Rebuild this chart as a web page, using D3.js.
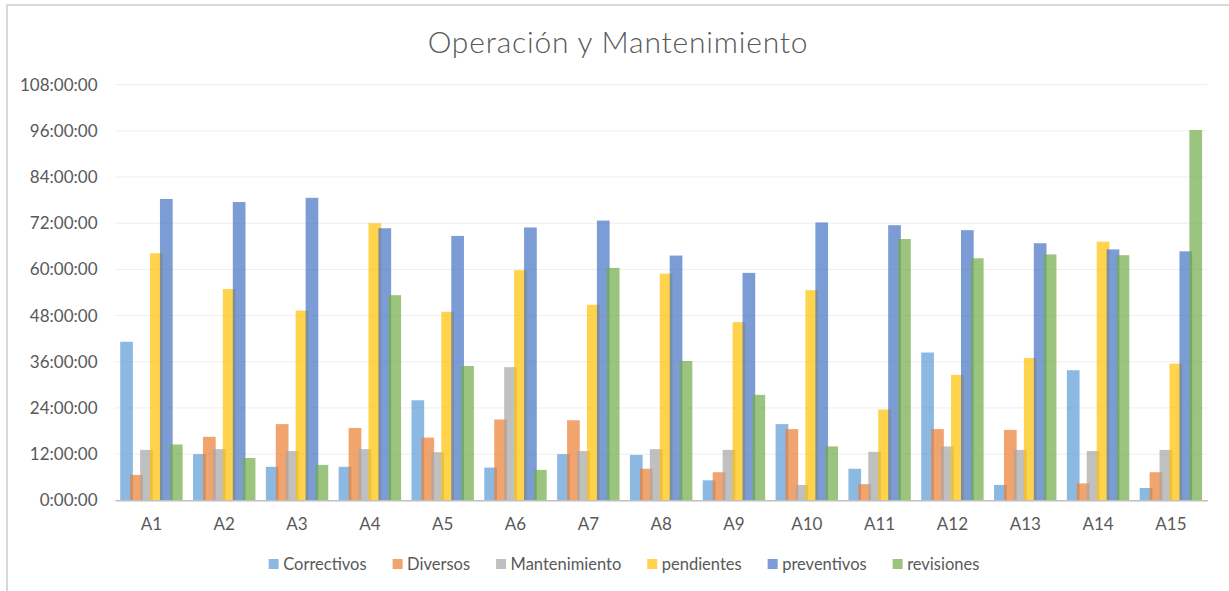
<!DOCTYPE html>
<html>
<head>
<meta charset="utf-8">
<script src="https://cdn.jsdelivr.net/npm/d3@7"></script>
<style>
  html, body { margin: 0; padding: 0; background: #fff; }
  svg { display: block; }
  text { font-family: Lato, "Open Sans", sans-serif; }
</style>
</head>
<body>
<svg id="chart" width="1229" height="591"></svg>
<script>
// ---- data (hours) ----
const categories = ["A1","A2","A3","A4","A5","A6","A7","A8","A9","A10","A11","A12","A13","A14","A15"];
const seriesNames = ["Correctivos","Diversos","Mantenimiento","pendientes","preventivos","revisiones"];
const correctivos   = [41.2, 12.0, 8.7, 8.7, 26.0, 8.5, 12.0, 11.8, 5.2, 19.8, 8.2, 38.4, 4.0, 33.8, 3.2];
const diversos      = [6.6, 16.5, 19.8, 18.8, 16.3, 21.0, 20.8, 8.2, 7.3, 18.5, 4.2, 18.5, 18.3, 4.4, 7.3];
const mantenimiento = [13.1, 13.3, 12.8, 13.3, 12.5, 34.6, 12.8, 13.3, 13.1, 4.0, 12.6, 14.0, 13.1, 12.8, 13.1];
const pendientes    = [64.2, 54.9, 49.3, 72.0, 49.0, 59.8, 50.8, 58.9, 46.3, 54.6, 23.6, 32.6, 37.0, 67.2, 35.5];
const preventivos   = [78.3, 77.5, 78.6, 70.7, 68.7, 70.9, 72.7, 63.6, 59.1, 72.2, 71.5, 70.2, 66.8, 65.2, 64.7];
const revisiones    = [14.5, 11.0, 9.2, 53.3, 34.9, 7.9, 60.4, 36.2, 27.4, 14.0, 67.9, 62.9, 63.9, 63.7, 96.2];
const seriesValues = [correctivos, diversos, mantenimiento, pendientes, preventivos, revisiones];
const seriesColors = ["#5B9BD5","#ED7D31","#A5A5A5","#FFC000","#4472C4","#70AD47"];
const yTicks = [0, 12, 24, 36, 48, 60, 72, 84, 96, 108];
const title = "Operación y Mantenimiento";

// ---- layout ----
const W = 1229, H = 591;
const plot = { left: 115, right: 1207.3, top: 84.7, bottom: 500.3 };
const svg = d3.select("#chart");

// chart border (top + left only visible)
svg.append("line").attr("x1", 6.5).attr("x2", W).attr("y1", 5).attr("y2", 5)
  .attr("stroke", "#D9D9D9").attr("stroke-width", 2);
svg.append("line").attr("x1", 7).attr("x2", 7).attr("y1", 4).attr("y2", H)
  .attr("stroke", "#D9D9D9").attr("stroke-width", 2);

const y = d3.scaleLinear().domain([0, 108]).range([plot.bottom, plot.top]);
const x0 = d3.scaleBand().domain(categories).range([plot.left, plot.right])
  .paddingInner(0.143).paddingOuter(0.0715);
const bw = x0.bandwidth();
const barW = bw * 12.7 / 62.4;
const x1 = d3.scalePoint().domain(seriesNames).range([0, bw - barW]);

// gridlines
svg.append("g").selectAll("line").data(yTicks.filter(t => t > 0)).join("line")
  .attr("x1", plot.left).attr("x2", plot.right)
  .attr("y1", d => y(d)).attr("y2", d => y(d))
  .attr("stroke", "#EEEEEE").attr("stroke-width", 1);

// y axis labels
const yAxis = d3.axisLeft(y).tickValues(yTicks).tickSize(0).tickPadding(0)
  .tickFormat(d => d + ":00:00");
const gy = svg.append("g").attr("transform", `translate(97.5,0)`).call(yAxis);
gy.select(".domain").remove();
gy.selectAll("text").attr("fill", "#595959").style("font-size", "17px")
  .style("font-family", "Lato, 'Open Sans', sans-serif");

// bars
seriesNames.forEach((s, si) => {
  svg.append("g").selectAll("rect").data(categories).join("rect")
    .attr("x", c => x0(c) + x1(s))
    .attr("width", barW)
    .attr("y", (c, i) => y(seriesValues[si][i]))
    .attr("height", (c, i) => y(0) - y(seriesValues[si][i]))
    .attr("fill", seriesColors[si])
    .attr("fill-opacity", 0.7);
});

// x axis
const xAxis = d3.axisBottom(x0).tickSize(0).tickPadding(0);
const gx = svg.append("g").attr("transform", `translate(0,${plot.bottom})`).call(xAxis);
gx.select(".domain").attr("stroke", "#BFBFBF").attr("stroke-width", 1.5);
gx.selectAll("text").attr("fill", "#595959").attr("dy", null).attr("y", 29.5)
  .style("font-size", "17px").style("font-family", "Lato, 'Open Sans', sans-serif");

// title
svg.append("text").attr("x", 618).attr("y", 52.5).attr("text-anchor", "middle")
  .attr("fill", "#595959").style("font-size", "30px").style("font-weight", 300)
  .style("letter-spacing", "0.8px").text(title);

// legend
const lg = svg.append("g");
let cx = 0;
const gap = 26;
seriesNames.forEach((s, i) => {
  const g = lg.append("g");
  g.append("rect").attr("x", cx).attr("y", -5).attr("width", 10).attr("height", 10)
    .attr("fill", seriesColors[i]).attr("fill-opacity", 0.7);
  const t = g.append("text").attr("x", cx + 14.5).attr("y", 6).attr("fill", "#595959")
    .style("font-size", "16.5px").text(s);
  const tw = t.node().getComputedTextLength();
  cx += 14.5 + tw + gap;
});
const totalW = cx - gap;
lg.attr("transform", `translate(${624 - totalW / 2},564)`);
</script>
</body>
</html>
